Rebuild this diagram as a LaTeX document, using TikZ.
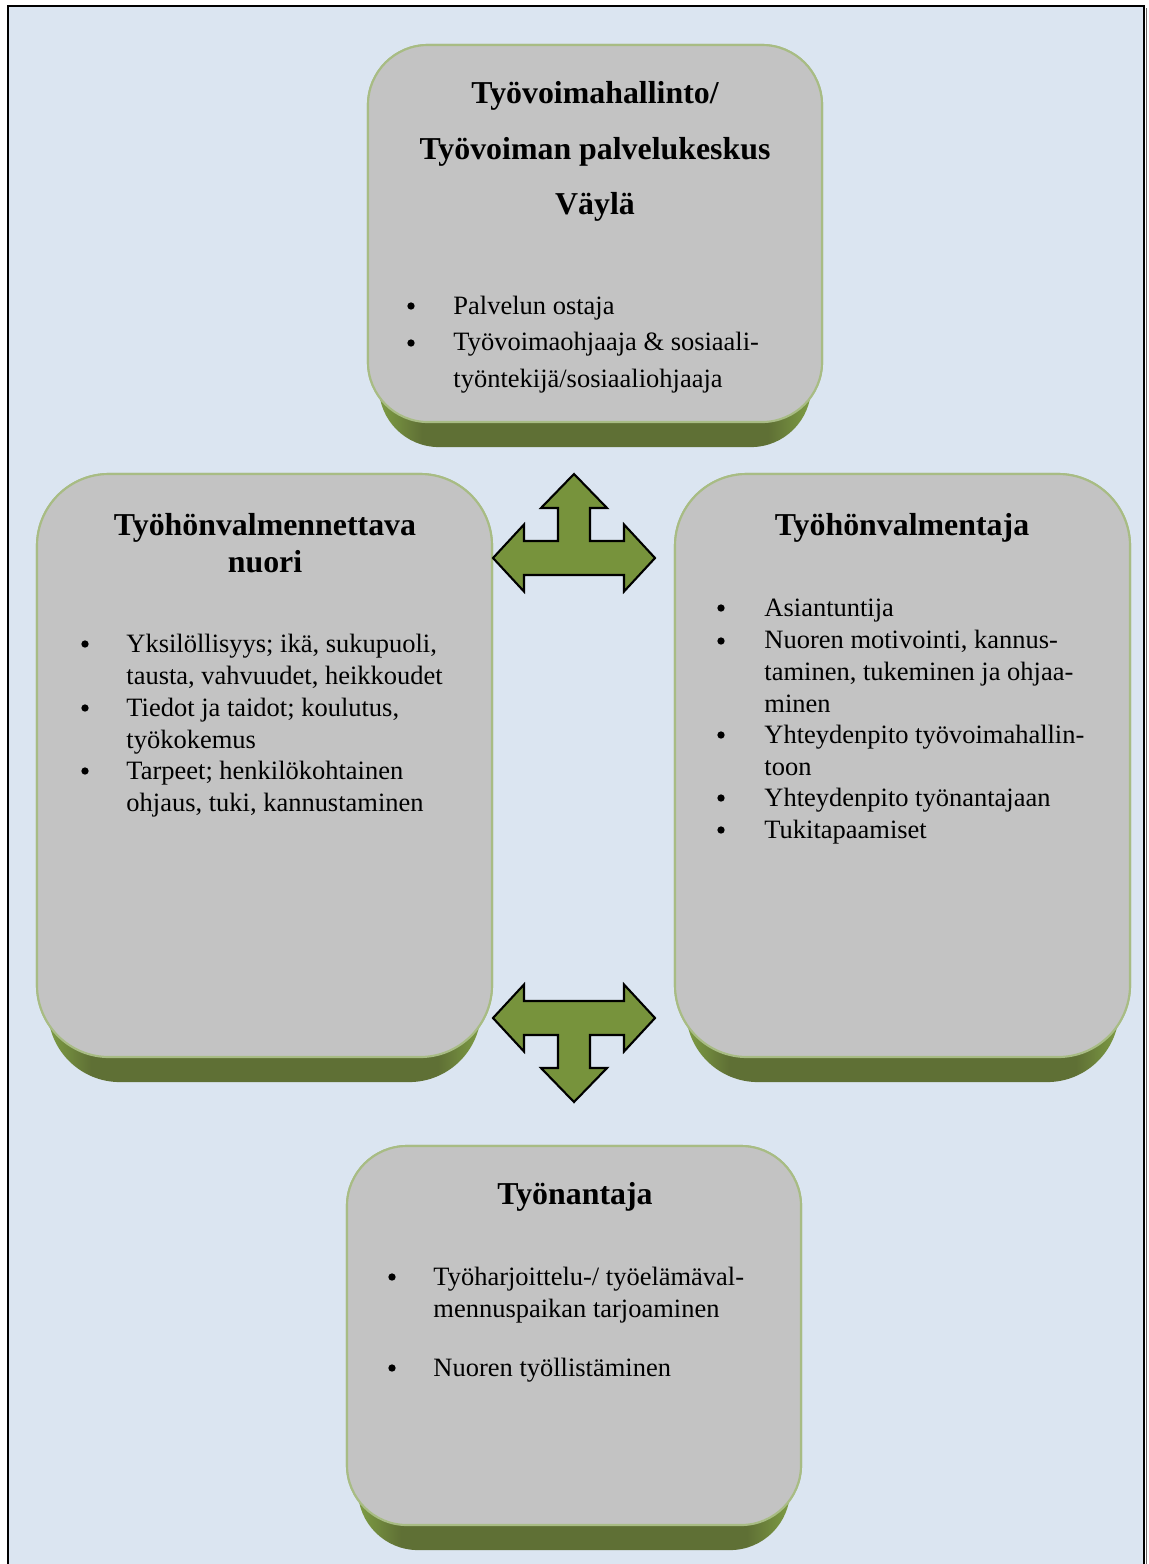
\documentclass[tikz,border=0pt]{standalone}
\usepackage{fontspec}
\setmainfont{Liberation Serif}

\definecolor{pagebg}{HTML}{DBE5F1}
\definecolor{boxgray}{HTML}{C3C3C3}
\definecolor{boxedge}{HTML}{A8BC84}
\definecolor{arrowgreen}{HTML}{77933C}
\definecolor{baselight}{HTML}{7E9C44}
\definecolor{basedark}{HTML}{5F7035}

% green foot under each box, lighter at both ends
\pgfdeclarehorizontalshading{basegreen}{100bp}{color(0bp)=(baselight); color(25bp)=(baselight); color(30bp)=(basedark); color(70bp)=(basedark); color(75bp)=(baselight); color(100bp)=(baselight)}

\begin{document}
\begin{tikzpicture}[x=0.015cm, y=-0.015cm,
  box/.style={rectangle, fill=boxgray, draw=boxedge, line width=0.9pt},
  boxbase/.style={shading=basegreen},
  title/.style={anchor=base, inner sep=0pt, font=\fontsize{13.6}{16}\selectfont\bfseries},
  dot/.style={circle, fill=black, inner sep=0pt, minimum size=0.11cm, yshift=0.12cm},
  item/.style={anchor=base west, inner sep=0pt, align=left, font=\fontsize{11.3}{13.6}\selectfont},
  wideitem/.style={item, font=\fontsize{11.3}{15.4}\selectfont},
  arrowshape/.style={fill=arrowgreen, draw=black, line width=0.9pt, line join=miter},
  tarrow/.pic={
    \draw [arrowshape] (-81,0) -- (-50,-33.5) -- (-50,-17) -- (-16,-17) -- (-16,-50) -- (-33,-50)
      -- (0,-84) -- (33,-50) -- (16,-50) -- (16,-17) -- (50,-17) -- (50,-33.5) -- (81,0)
      -- (50,33.5) -- (50,17) -- (-50,17) -- (-50,33.5) -- cycle;
  }]

\useasboundingbox (0,0) rectangle (1149,1564);

% page frame
\fill [pagebg] (8,6) rectangle (1144,1564);
\draw [line width=1.2pt] (8,1564) -- (8,6) -- (1144,6) -- (1144,1564);
\draw [black!60, line width=0.5pt] (1146.5,8) -- (1146.5,1564);

% top box
\draw (595,233.5) node (topbox) [box, minimum width=6.81cm, minimum height=5.655cm, rounded corners=0.9cm] {};
\shade [boxbase, rounded corners=0.9cm] ([xshift=0.18cm, yshift=-0.36cm]topbox.north west) rectangle ([xshift=-0.18cm, yshift=-0.36cm]topbox.south east);
\draw (595,233.5) node [box, minimum width=6.81cm, minimum height=5.655cm, rounded corners=0.9cm] {};

\draw (595,103) node (toptitle1) [title] {Työvoimahallinto/};
\draw (595,159) node (toptitle2) [title] {Työvoiman palvelukeskus};
\draw (595,214) node (toptitle3) [title] {Väylä};

% multi-line items sit on the baseline of their last line
\draw (411,314) node (tb1) [dot] {};
\draw (453,314) node (tt1) [wideitem] {Palvelun ostaja};
\draw (411,351) node (tb2) [dot] {};
\draw (453,387) node (tt2) [wideitem] {Työvoimaohjaaja \& sosiaali-\\työntekijä/sosiaaliohjaaja};

% left box
\draw (264.5,765.5) node (leftbox) [box, minimum width=6.825cm, minimum height=8.745cm, rounded corners=1.08cm] {};
\shade [boxbase, rounded corners=1.08cm] ([xshift=0.18cm, yshift=-0.36cm]leftbox.north west) rectangle ([xshift=-0.18cm, yshift=-0.36cm]leftbox.south east);
\draw (264.5,765.5) node [box, minimum width=6.825cm, minimum height=8.745cm, rounded corners=1.08cm] {};

\draw (265,535) node (lefttitle1) [title] {Työhönvalmennettava};
\draw (265,572) node (lefttitle2) [title] {nuori};

\draw (85,652) node (lb1) [dot] {};
\draw (126,684) node (lt1) [item] {Yksilöllisyys; ikä, sukupuoli,\\tausta, vahvuudet, heikkoudet};
\draw (85,716) node (lb2) [dot] {};
\draw (126,748) node (lt2) [item] {Tiedot ja taidot; koulutus,\\työkokemus};
\draw (85,779) node (lb3) [dot] {};
\draw (126,811) node (lt3) [item] {Tarpeet; henkilökohtainen\\ohjaus, tuki, kannustaminen};

% right box
\draw (902.5,765.5) node (rightbox) [box, minimum width=6.825cm, minimum height=8.745cm, rounded corners=1.08cm] {};
\shade [boxbase, rounded corners=1.08cm] ([xshift=0.18cm, yshift=-0.36cm]rightbox.north west) rectangle ([xshift=-0.18cm, yshift=-0.36cm]rightbox.south east);
\draw (902.5,765.5) node [box, minimum width=6.825cm, minimum height=8.745cm, rounded corners=1.08cm] {};

\draw (902,535) node (righttitle) [title] {Työhönvalmentaja};

\draw (721,616) node (rb1) [dot] {};
\draw (764,616) node (rt1) [item] {Asiantuntija};
\draw (721,649) node (rb2) [dot] {};
\draw (764,712) node (rt2) [item] {Nuoren motivointi, kannus-\\taminen, tukeminen ja ohjaa-\\minen};
\draw (721,743) node (rb3) [dot] {};
\draw (764,775) node (rt3) [item] {Yhteydenpito työvoimahallin-\\toon};
\draw (721,806) node (rb4) [dot] {};
\draw (764,806) node (rt4) [item] {Yhteydenpito työnantajaan};
\draw (721,838) node (rb5) [dot] {};
\draw (764,838) node (rt5) [item] {Tukitapaamiset};

% bottom box
\draw (574,1335.5) node (botbox) [box, minimum width=6.81cm, minimum height=5.685cm, rounded corners=0.9cm] {};
\shade [boxbase, rounded corners=0.9cm] ([xshift=0.18cm, yshift=-0.36cm]botbox.north west) rectangle ([xshift=-0.18cm, yshift=-0.36cm]botbox.south east);
\draw (574,1335.5) node [box, minimum width=6.81cm, minimum height=5.685cm, rounded corners=0.9cm] {};

\draw (575,1204) node (bottitle) [title] {Työnantaja};

\draw (392,1285) node (bb1) [dot] {};
\draw (433,1317) node (bt1) [item] {Työharjoittelu-/ työelämäval-\\mennuspaikan tarjoaminen};
\draw (392,1376) node (bb2) [dot] {};
\draw (433,1376) node (bt2) [item] {Nuoren työllistäminen};

% arrows between the boxes
\pic at (574,558) {tarrow};
\pic [yscale=-1] at (574,1018) {tarrow};

\end{tikzpicture}
\end{document}
